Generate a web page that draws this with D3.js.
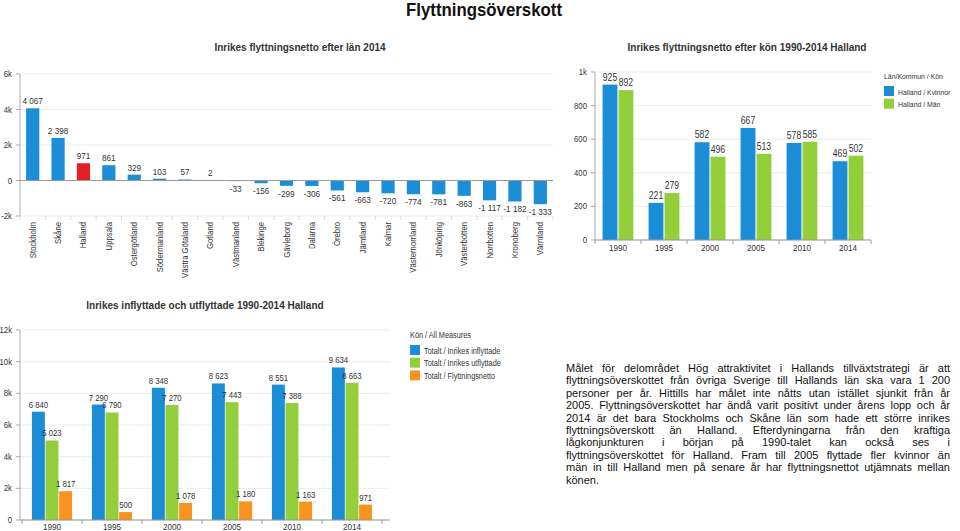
<!DOCTYPE html>
<html>
<head>
<meta charset="utf-8">
<script src="https://cdnjs.cloudflare.com/ajax/libs/d3/7.8.5/d3.min.js"></script>
<style>
  body { margin: 0; background: #fff; font-family: "Liberation Sans", Arial, sans-serif; }
  #wrap { position: relative; width: 960px; height: 531px; overflow: hidden; }
  svg { position: absolute; left: 0; top: 0; }
  #note { position: absolute; left: 566px; top: 362px; width: 384px; font-size: 11px; line-height: 12.4px; color: #111; }
  #note div { text-align: justify; text-align-last: justify; white-space: nowrap; }
  #note div.last { text-align-last: left; }
</style>
</head>
<body>
<div id="wrap">
<svg width="960" height="531"></svg>
<div id="note"></div>
</div>
<script>
// chart 1: net migration per county 2014
var lan = ["Stockholm","Skåne","Halland","Uppsala","Östergötland","Södermanland","Västra Götaland","Gotland","Västmanland","Blekinge","Gävleborg","Dalarna","Örebro","Jämtland","Kalmar","Västernorrland","Jönköping","Västerbotten","Norrbotten","Kronoberg","Värmland"];
var lanNetto = [4067,2398,971,861,329,103,57,2,-33,-156,-299,-306,-561,-663,-720,-774,-781,-863,-1117,-1182,-1333];
var lanTicks = [-2000,0,2000,4000,6000];

// chart 2: net migration by sex
var years = ["1990","1995","2000","2005","2010","2014"];
var kvinnor = [925,221,582,667,578,469];
var man = [892,279,496,513,585,502];
var konTicks = [0,200,400,600,800,1000];
var konSeries = ["Halland / Kvinnor","Halland / Män"];

// chart 3: in- and out-migration
var inflyttade = [6840,7290,8348,8623,8551,9634];
var utflyttade = [5023,6790,7270,7443,7388,8663];
var netto = [1817,500,1078,1180,1163,971];
var flyttTicks = [0,2000,4000,6000,8000,10000,12000];
var flyttSeries = ["Totalt / Inrikes inflyttade","Totalt / Inrikes utflyttade","Totalt / Flyttningsnetto"];

var noteLines = [
  "Målet för delområdet Hög attraktivitet i Hallands tillväxtstrategi är att",
  "flyttningsöverskottet från övriga Sverige till Hallands län ska vara 1 200",
  "personer per år. Hittills har målet inte nåtts utan istället sjunkit från år",
  "2005. Flyttningsöverskottet har ändå varit positivt under årens lopp och år",
  "2014 är det bara Stockholms och Skåne län som hade ett större inrikes",
  "flyttningsöverskott än Halland. Efterdyningarna från den kraftiga",
  "lågkonjunkturen i början på 1990-talet kan också ses i",
  "flyttningsöverskottet för Halland. Fram till 2005 flyttade fler kvinnor än",
  "män in till Halland men på senare år har flyttningsnettot utjämnats mellan",
  "könen."
];

var blue = "#1c8dd7", green = "#93cf3a", orange = "#f7931e", red = "#e41f26";
var txt = "#333";
var loc = d3.formatLocale({decimal: ",", thousands: "\u00a0", grouping: [3], currency: ["", " kr"], minus: "-"});
var fmt = loc.format(",d");
var tickFmt = function(d) { return d === 0 ? "0" : d3.format("~s")(d).replace("−", "-"); };

var svg = d3.select("svg");

svg.append("text")
  .attr("class", "main")
  .attr("x", 484).attr("y", 16)
  .attr("text-anchor", "middle")
  .style("font-weight", "bold")
  .style("font-size", "19px")
  .attr("fill", "#111")
  .text("Flyttningsöverskott");

function title(x, y, t) {
  svg.append("text")
    .attr("class", "title")
    .attr("x", x).attr("y", y)
    .attr("text-anchor", "middle")
    .style("font-weight", "bold")
    .style("font-size", "10px")
    .attr("fill", txt)
    .text(t);
}

function yAxis(g, y, ticks, x0, x1) {
  g.selectAll(".grid").data(ticks).enter().append("line")
    .attr("x1", x0).attr("x2", x1)
    .attr("y1", function(d) { return y(d); }).attr("y2", function(d) { return y(d); })
    .attr("stroke", "#ececec");
  g.selectAll(".tk").data(ticks).enter().append("line")
    .attr("x1", x0 - 4).attr("x2", x0)
    .attr("y1", function(d) { return y(d); }).attr("y2", function(d) { return y(d); })
    .attr("stroke", "#aaa");
  g.selectAll(".tl").data(ticks).enter().append("text")
    .attr("x", x0 - 8).attr("y", function(d) { return y(d) + 3; })
    .attr("text-anchor", "end")
    .style("font-size", "9px")
    .attr("fill", txt)
    .text(tickFmt);
  g.append("line")
    .attr("x1", x0).attr("x2", x0)
    .attr("y1", y.range()[0]).attr("y2", y.range()[1])
    .attr("stroke", "#aaa");
}

// ---------- chart 1
title(300, 51, "Inrikes flyttningsnetto efter län 2014");
var g1 = svg.append("g");
var x1 = d3.scaleBand().domain(lan).range([20, 553]).paddingInner(0.48).paddingOuter(0.24);
var y1 = d3.scaleLinear().domain([-2000, 6000]).range([216, 74]);
yAxis(g1, y1, lanTicks, 20, 553);
g1.selectAll(".xt").data(d3.range(lan.length + 1)).enter().append("line")
  .attr("x1", function(i) { return x1.range()[0] + i * x1.step(); })
  .attr("x2", function(i) { return x1.range()[0] + i * x1.step(); })
  .attr("y1", 216).attr("y2", 220)
  .attr("stroke", "#ddd");
g1.selectAll("rect").data(lanNetto).enter().append("rect")
  .attr("x", function(d, i) { return x1(lan[i]); })
  .attr("width", x1.bandwidth())
  .attr("y", function(d) { return y1(Math.max(d, 0)); })
  .attr("height", function(d) { return Math.abs(y1(d) - y1(0)); })
  .attr("fill", function(d, i) { return lan[i] === "Halland" ? red : blue; });
g1.append("line")
  .attr("x1", 20).attr("x2", 553).attr("y1", y1(0)).attr("y2", y1(0))
  .attr("stroke", "#999");
g1.selectAll(".vl").data(lanNetto).enter().append("text")
  .attr("x", function(d, i) { return x1(lan[i]) + x1.bandwidth() / 2; })
  .attr("y", function(d) { return d >= 0 ? y1(d) - 4 : y1(d) + 11; })
  .attr("text-anchor", "middle")
  .style("font-size", "9.5px")
  .attr("fill", txt)
  .text(fmt);
g1.selectAll(".xl").data(lan).enter().append("text")
  .attr("transform", function(d) { return "translate(" + (x1(d) + x1.bandwidth() / 2 + 3) + ",222) rotate(-90)"; })
  .attr("text-anchor", "end")
  .style("font-size", "9px")
  .attr("fill", txt)
  .text(function(d) { return d; });

// ---------- chart 2
title(747, 51, "Inrikes flyttningsnetto efter kön 1990-2014 Halland");
var g2 = svg.append("g");
var x2 = d3.scaleBand().domain(years).range([595, 871]).paddingInner(0.33).paddingOuter(0.165);
var x2b = d3.scaleBand().domain(konSeries).range([0, x2.bandwidth()]).paddingInner(0.07);
var y2 = d3.scaleLinear().domain([0, 1000]).range([240, 72]);
yAxis(g2, y2, konTicks, 595, 871);
var konVals = [kvinnor, man];
var konCols = [blue, green];
konSeries.forEach(function(s, k) {
  g2.selectAll(".b" + k).data(konVals[k]).enter().append("rect")
    .attr("x", function(d, i) { return x2(years[i]) + x2b(s); })
    .attr("width", x2b.bandwidth())
    .attr("y", function(d) { return y2(d); })
    .attr("height", function(d) { return y2(0) - y2(d); })
    .attr("fill", konCols[k]);
  g2.selectAll(".l" + k).data(konVals[k]).enter().append("text")
    .attr("x", function(d, i) { return x2(years[i]) + x2b(s) + x2b.bandwidth() / 2; })
    .attr("y", function(d) { return y2(d) - 4; })
    .attr("text-anchor", "middle")
    .style("font-size", "10px")
    .attr("fill", txt)
    .text(fmt);
});
g2.append("line").attr("x1", 595).attr("x2", 871).attr("y1", 240).attr("y2", 240).attr("stroke", "#999");
g2.selectAll(".xt").data(d3.range(years.length + 1)).enter().append("line")
  .attr("x1", function(i) { return 595 + i * x2.step(); })
  .attr("x2", function(i) { return 595 + i * x2.step(); })
  .attr("y1", 240).attr("y2", 244).attr("stroke", "#999");
g2.selectAll(".xl").data(years).enter().append("text")
  .attr("x", function(d) { return x2(d) + x2.bandwidth() / 2; })
  .attr("y", 251)
  .attr("text-anchor", "middle")
  .style("font-size", "9.5px")
  .attr("fill", txt)
  .text(function(d) { return d; });

function legend(x, y, head, names, cols, fs) {
  var lg = svg.append("g");
  lg.append("text").attr("x", x).attr("y", y)
    .style("font-size", fs).attr("fill", txt).text(head);
  names.forEach(function(n, i) {
    lg.append("rect").attr("x", x).attr("y", y + 7 + i * 12.7).attr("width", 10).attr("height", 10).attr("fill", cols[i]);
    lg.append("text").attr("x", x + 14).attr("y", y + 15.5 + i * 12.7)
      .style("font-size", fs).attr("fill", txt).text(n);
  });
}
legend(884, 79, "Län/Kommun / Kön", konSeries, konCols, "8px");

// ---------- chart 3
title(205, 309, "Inrikes inflyttade och utflyttade 1990-2014 Halland");
var g3 = svg.append("g");
var x3 = d3.scaleBand().domain(years).range([22, 382]).paddingInner(0.33).paddingOuter(0.165);
var x3b = d3.scaleBand().domain(flyttSeries).range([0, x3.bandwidth()]).paddingInner(0.05);
var y3 = d3.scaleLinear().domain([0, 12000]).range([520, 330]);
yAxis(g3, y3, flyttTicks, 20, 390);
var flyttVals = [inflyttade, utflyttade, netto];
var flyttCols = [blue, green, orange];
flyttSeries.forEach(function(s, k) {
  g3.selectAll(".b" + k).data(flyttVals[k]).enter().append("rect")
    .attr("x", function(d, i) { return x3(years[i]) + x3b(s); })
    .attr("width", x3b.bandwidth())
    .attr("y", function(d) { return y3(d); })
    .attr("height", function(d) { return y3(0) - y3(d); })
    .attr("fill", flyttCols[k]);
});
flyttSeries.forEach(function(s, k) {
  g3.selectAll(".l" + k).data(flyttVals[k]).enter().append("text")
    .attr("x", function(d, i) { return x3(years[i]) + x3b(s) + x3b.bandwidth() / 2; })
    .attr("y", function(d) { return y3(d) - 4; })
    .attr("text-anchor", "middle")
    .style("font-size", "9px")
    .attr("fill", txt)
    .text(fmt);
});
g3.append("line").attr("x1", 20).attr("x2", 390).attr("y1", 520).attr("y2", 520).attr("stroke", "#999");
g3.selectAll(".xt").data(d3.range(years.length + 1)).enter().append("line")
  .attr("x1", function(i) { return 22 + i * x3.step(); })
  .attr("x2", function(i) { return 22 + i * x3.step(); })
  .attr("y1", 520).attr("y2", 524).attr("stroke", "#999");
g3.selectAll(".xl").data(years).enter().append("text")
  .attr("x", function(d) { return x3(d) + x3.bandwidth() / 2; })
  .attr("y", 530)
  .attr("text-anchor", "middle")
  .style("font-size", "9.5px")
  .attr("fill", txt)
  .text(function(d) { return d; });
legend(410, 338, "Kön / All Measures", flyttSeries, flyttCols, "8.5px");

// the source uses a narrow face; squeeze glyphs a little
svg.selectAll("text").each(function() {
  var t = d3.select(this);
  var w = this.getComputedTextLength();
  if (t.classed("title")) return;
  var f = t.classed("main") ? 156 / w : 0.86;
  t.attr("textLength", w * f).attr("lengthAdjust", "spacingAndGlyphs");
});

// ---------- text block
d3.select("#note").selectAll("div").data(noteLines).enter().append("div")
  .attr("class", function(d, i) { return i === noteLines.length - 1 ? "last" : null; })
  .text(function(d) { return d; });
</script>
</body>
</html>
